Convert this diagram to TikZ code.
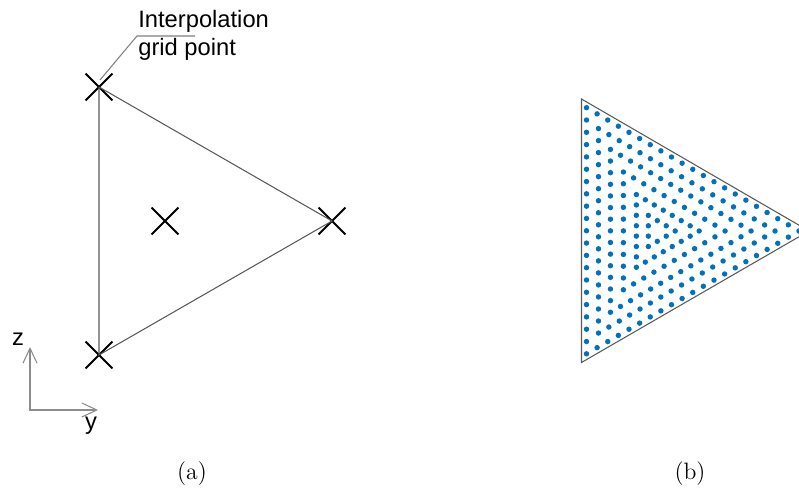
\documentclass[tikz,border=0pt]{standalone}
\usepackage{fontspec}
\usepackage{xcolor}
\usetikzlibrary{arrows.meta, positioning, shapes.misc, calc}
\newfontfamily\arialfont{Liberation Sans}
\definecolor{dotblue}{HTML}{0072BD}
\definecolor{edgegray}{gray}{0.35}

\begin{document}
\begin{tikzpicture}[
    x=0.02cm, y=-0.02cm,
    every node/.style={font=\arialfont\fontsize{13.5}{16}\selectfont, inner sep=0pt},
    gridpt/.style={cross out, draw=black, line width=1.1pt, minimum size=0.5cm},
    edge/.style={draw=edgegray, line width=0.6pt},
    leader/.style={draw=gray, line width=0.6pt},
    axis/.style={draw=gray!90, line width=0.6pt},
    caption/.style={font=\fontsize{13.5}{16}\selectfont}
]
\useasboundingbox (0,0) rectangle (799,489);
% Left: triangle with its grid points
\node[gridpt] (vtop) at (99,87) {};
\node[gridpt] (vright) at (332,221) {};
\node[gridpt] (vbot) at (99,355) {};
\node[gridpt] (vmid) at (165,221) {};
\draw[edge] (vtop.center) -- (vright.center) -- (vbot.center) -- (vtop.center);
% Label and leader
\node[anchor=north west, align=left] (lbl) at (138,10) {Interpolation\\grid point};
\coordinate (knee) at (137,36);
\draw[leader] ($(vtop.center)+(1,-7)$) -- (knee) -- ++(58,0);
% Axes
\coordinate (axo) at (30,410);
\coordinate (zend) at (30,347);
\coordinate (yend) at (98,410);
\draw[axis, {Straight Barb[length=8.5pt, width=8pt]}-{Straight Barb[length=8.5pt, width=8pt]}] (zend) -- (axo) -- (yend);
\node (zlbl) at (18,339) {z};
\node (ylbl) at (91,426) {y};
% Right: interpolation points
\coordinate (rtop) at (581.5,99);
\coordinate (rtip) at (809,231);
\coordinate (rbot) at (581.5,362.5);
\coordinate (ctr) at (657.3,231);
\begin{scope}
\clip (0,0) rectangle (799,489);
\foreach \s/\n in {0.934/20, 0.776/17, 0.618/14, 0.447/10, 0.276/7, 0.118/3}{
  \pgfmathtruncatemacro\m{\n-1}
  \foreach \pa/\pb in {rtop/rtip, rtip/rbot, rbot/rtop}{
    \coordinate (la) at ($(ctr)!\s!(\pa)$);
    \coordinate (lb) at ($(ctr)!\s!(\pb)$);
    \foreach \i in {0,...,\m}{
      \pgfmathsetmacro\t{\i/\n}
      \fill[dotblue] ($(la)!\t!(lb)$) circle[radius=1.55pt];
    }
  }
}
\draw[edge] (rtop) -- (rtip) -- (rbot) -- cycle;
\end{scope}
% Captions
\node[caption] (capa) at (192,474) {(a)};
\node[caption] (capb) at (690,474) {(b)};
\end{tikzpicture}
\end{document}
